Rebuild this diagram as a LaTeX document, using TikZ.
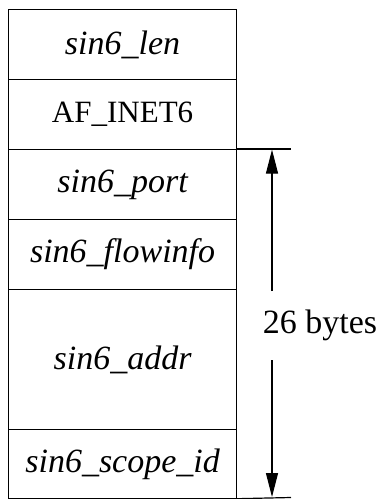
\documentclass[tikz,border=0pt]{standalone}
\usepackage{fontspec}
\setmainfont{Liberation Serif}
\usetikzlibrary{arrows.meta}
\begin{document}
\begin{tikzpicture}[x=1pt,y=-1pt,
  field/.style={draw, line width=1.2pt, minimum width=228pt, inner sep=0pt, anchor=north west, font=\fontsize{34}{36}\selectfont\itshape},
  plain/.style={field, font=\fontsize{31}{36}\selectfont},
  ext/.style={line width=1.2pt},
  dim/.style={line width=1.2pt, -{Triangle[length=24pt,width=12pt]}}]
\useasboundingbox (0,0) rectangle (382,499);
\node[field, minimum height=70pt] (len) at (8,9) {sin6\_len};
\node[plain, minimum height=70pt] (fam) at (8,79) {AF\_INET6};
\node[field, minimum height=70pt] (port) at (8,149) {sin6\_port};
\node[field, minimum height=70pt] (flow) at (8,219) {sin6\_flowinfo};
\node[field, minimum height=140pt] (addr) at (8,289) {sin6\_addr};
\node[field, minimum height=68.5pt] (scope) at (8,429) {sin6\_scope\_id};
\coordinate (e1) at (291,149);
\coordinate (e2) at (291,497.5);
\draw[ext] (port.north east) -- (e1);
\draw[ext] (scope.south east) -- (e2);
\node[font=\fontsize{34}{36}\selectfont] (lbl) at (320,325) {26 bytes};
\coordinate (t) at (272,149.6);
\coordinate (b) at (272,497);
\coordinate (m1) at (272,291);
\coordinate (m2) at (272,360);
\draw[dim] (m1) -- (t);
\draw[dim] (m2) -- (b);
\end{tikzpicture}
\end{document}
